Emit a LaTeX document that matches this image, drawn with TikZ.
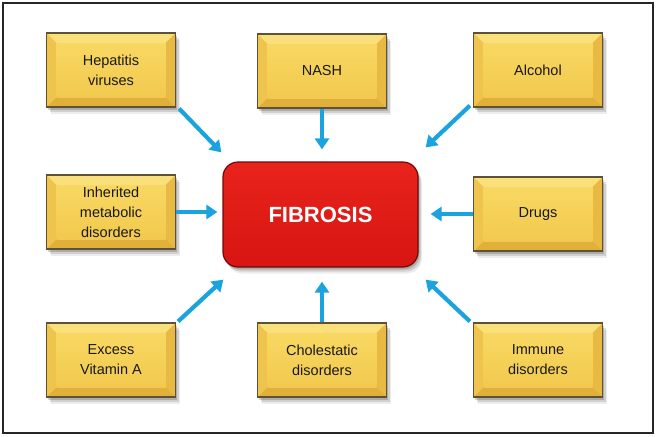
\documentclass[tikz,border=0pt]{standalone}
\usepackage{fontspec}
\setmainfont{Liberation Sans}
\usetikzlibrary{arrows.meta,shadows}
\definecolor{gmid}{HTML}{F3CC52}
\definecolor{ginnertop}{HTML}{F8D862}
\definecolor{ginnerbot}{HTML}{F2C94E}
\definecolor{gtop}{HTML}{FAE07A}
\definecolor{gleft}{HTML}{EFC44C}
\definecolor{gright}{HTML}{E8BA44}
\definecolor{gbot}{HTML}{E0B03A}
\definecolor{gedge}{HTML}{5E5236}
\definecolor{fred}{HTML}{E31B16}
\definecolor{fredtop}{HTML}{E8231C}
\definecolor{fredbot}{HTML}{D81512}
\definecolor{fedge}{HTML}{6E0A08}
\definecolor{arr}{HTML}{1BA3E0}
\tikzset{
  softshadow/.style={
    drop shadow={shadow xshift=1.5pt,shadow yshift=-2.5pt,opacity=0.18,fill=black},
    drop shadow={shadow xshift=3pt,shadow yshift=-4.5pt,opacity=0.12,fill=black},
    drop shadow={shadow xshift=4pt,shadow yshift=-6.5pt,opacity=0.07,fill=black}},
  gbox/.style={rectangle, inner sep=0pt, minimum width=129pt, minimum height=74pt,
    fill=gmid, draw=gedge, line width=1.1pt, align=center, text=black!90,
    font=\fontsize{14.5}{20}\selectfont, softshadow,
    path picture={
      \path (path picture bounding box.north west) coordinate (pA)
            (path picture bounding box.north east) coordinate (pB)
            (path picture bounding box.south east) coordinate (pC)
            (path picture bounding box.south west) coordinate (pD);
      \path ([xshift=10pt,yshift=-10pt]pA) coordinate (pa)
            ([xshift=-10pt,yshift=-10pt]pB) coordinate (pb)
            ([xshift=-10pt,yshift=10pt]pC) coordinate (pc)
            ([xshift=10pt,yshift=10pt]pD) coordinate (pd);
      \fill[gtop] (pA)--(pB)--(pb)--(pa)--cycle;
      \fill[gright] (pB)--(pC)--(pc)--(pb)--cycle;
      \fill[gbot] (pC)--(pD)--(pd)--(pc)--cycle;
      \fill[gleft] (pD)--(pA)--(pa)--(pd)--cycle;
      \shade[top color=ginnertop,bottom color=ginnerbot] (pa) rectangle (pc);
    }},
  fibbox/.style={rectangle, rounded corners=15pt, minimum width=195pt, minimum height=105pt,
    top color=fredtop, bottom color=fredbot, draw=fedge, line width=1.2pt,
    text=white, font=\fontsize{22}{24}\selectfont\bfseries, softshadow},
  cause/.style={draw=arr, line width=4.2pt, -{Triangle[length=11pt,width=14pt]}}
}
\begin{document}
\begin{tikzpicture}[x=1pt,y=-1pt]
\useasboundingbox (0,0) rectangle (657,437);
\draw[line width=1.2pt,black!85] (3,3) rectangle (653,433);

\node[fibbox] (fib) at (320.5,214.5) {FIBROSIS};

\node[gbox] (hep) at (111,70) {Hepatitis\\viruses};
\node[gbox] (nash) at (322,71) {NASH};
\node[gbox] (alc) at (538,70) {Alcohol};
\node[gbox] (inh) at (111,212) {Inherited\\metabolic\\disorders};
\node[gbox] (drg) at (538,214) {Drugs};
\node[gbox] (exc) at (111,360) {Excess\\Vitamin A};
\node[gbox] (cho) at (322,360) {Cholestatic\\disorders};
\node[gbox] (imm) at (538,360) {Immune\\disorders};

\draw[cause] ([xshift=3pt,yshift=-1pt]hep.south east) -- ([xshift=-1pt,yshift=9pt]fib.north west);
\draw[cause] (nash.south) -- ([yshift=12pt]fib.north -| nash.south);
\draw[cause] ([xshift=-3pt,yshift=2pt]alc.south west) -- ([xshift=7pt,yshift=14pt]fib.north east);
\draw[cause] (inh.east) -- ([xshift=-5pt]fib.west |- inh.east);
\draw[cause] (drg.west) -- ([xshift=12pt]fib.east |- drg.west);
\draw[cause] ([xshift=2pt,yshift=1pt]exc.north east) -- ([xshift=1pt,yshift=-12pt]fib.south west);
\draw[cause] (cho.north) -- ([yshift=-14pt]fib.south -| cho.north);
\draw[cause] ([xshift=-3pt,yshift=1pt]imm.north west) -- ([xshift=7pt,yshift=-12pt]fib.south east);
\end{tikzpicture}
\end{document}
